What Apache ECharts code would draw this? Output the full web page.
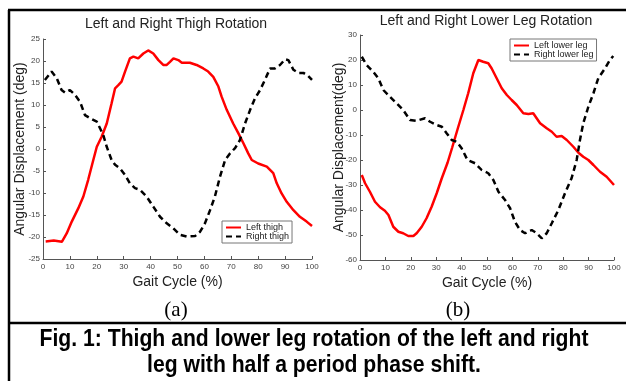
<!DOCTYPE html>
<html>
<head>
<meta charset="utf-8">
<script src="https://cdn.jsdelivr.net/npm/echarts@6/dist/echarts.min.js"></script>
<style>
  html, body { margin: 0; padding: 0; background: #fff; }
  #main { width: 626px; height: 381px; }
</style>
</head>
<body>
<div id="main"></div>
<script>
// values: [gait cycle %, angle deg]
var leftThigh = [[1,-21],[4,-20.8],[7,-21.1],[8.8,-19.2],[10.7,-16.5],[13.1,-13.5],[15,-10.8],[16.8,-7],[18.7,-2.5],[20,0.5],[21.8,2.8],[23.7,5.8],[25.5,10.4],[26.8,13.8],[28,14.5],[29.2,15.3],[30.5,17.6],[32.3,20.6],[33.6,21],[35.4,20.6],[37.3,21.7],[39.1,22.4],[41,21.7],[42.9,20.2],[44.7,19.1],[46,19.1],[47.2,19.8],[48.5,20.6],[50.3,20.2],[51.6,19.6],[54.6,19.6],[57.1,19.1],[59.6,18.3],[61.4,17.6],[63.3,16.4],[65.2,14.2],[66.4,11.9],[68.3,8.9],[70.7,5.8],[72.6,3.6],[74.5,1.3],[76.3,-1],[77.6,-2.5],[80,-3.3],[83.2,-4],[85.6,-5.5],[86.9,-7.8],[88.7,-10.1],[90.6,-12],[93.1,-13.9],[95.5,-15.4],[98,-16.5],[100,-17.5]];
var rightThigh = [[0.7,15.7],[3.2,17.6],[5.1,16.1],[6.9,13.4],[8.2,12.8],[10,13.4],[11.9,12.3],[13.8,10.7],[15.6,7.7],[17.5,7],[20,6.2],[21.2,4.7],[22.4,3.2],[23.7,0.5],[25.5,-2.5],[26.8,-3.6],[28.6,-4.4],[30.5,-5.9],[32.3,-7.8],[34.2,-8.9],[36.1,-9.3],[38.5,-10.8],[41,-13.1],[43.5,-15.4],[46,-16.9],[48.4,-18],[50.9,-19.5],[53.4,-19.9],[56.5,-19.8],[58.4,-18.8],[60.2,-16.9],[62.1,-13.9],[63.9,-10.8],[65.8,-6.3],[67.7,-2.5],[69.5,-1],[71.4,0.2],[73.2,2],[75.1,5.8],[77,8.9],[78.8,11.5],[80.7,13.4],[82.5,15.7],[84.4,18.3],[86.2,18.3],[88.1,19.1],[90,20.4],[91.2,20.2],[93.1,18],[94.9,17.3],[96.8,17.3],[98.6,16.6],[100,15.7]];
var leftLowerLeg = [[0.7,-26],[2,-29.3],[3.9,-32.7],[5.9,-36.7],[7.9,-38.9],[9.8,-40.3],[11.2,-42],[13.1,-46.7],[15.1,-48.7],[17,-49.3],[19,-50.4],[21,-50.4],[22.3,-49.3],[24.3,-46.7],[26.2,-43.3],[28.2,-38.7],[30.2,-33.3],[32.2,-27.3],[34.5,-21],[36.3,-15],[38.7,-6.7],[40.7,0],[42.6,6.7],[44.6,14.7],[46.6,20],[48.5,19.3],[50.5,18.7],[51.8,16.7],[53.8,12.7],[55.8,8.7],[57.8,6],[59.7,4],[61.7,2],[64.3,-1.3],[66.3,-1.6],[68.2,-1.3],[70.9,-5.3],[73.5,-7.3],[75.5,-8.7],[77.4,-10.7],[79.4,-10.4],[81.4,-12],[84,-14.7],[86,-17.1],[87.9,-18.7],[89.9,-20],[91.9,-22],[94.5,-24.7],[97.1,-26.7],[100,-30]];
var rightLowerLeg = [[0.7,21.3],[2.6,18],[5.2,15.3],[7.2,12.7],[9.2,8],[11.8,5.3],[14.4,2.7],[17,0],[19.7,-4],[22.3,-4.3],[25.6,-3.3],[27.6,-4.7],[30.2,-6],[32.2,-6.7],[34.1,-9.3],[36.1,-12],[38.1,-12.7],[40,-15.3],[42.3,-20],[45.3,-21.3],[47.9,-24],[50.5,-25.3],[52.5,-28],[54.5,-32.7],[57.1,-36],[59.1,-39.3],[61,-44.7],[63,-48],[65,-49.3],[67.6,-48],[69.6,-49.3],[71.5,-51.3],[73.5,-49.3],[75.5,-45.3],[78.1,-40],[80.7,-33.3],[83.3,-27.3],[85.3,-20],[86.6,-12],[87.9,-5.3],[89.9,1.3],[91.9,6.7],[93.8,12.7],[96.5,16.7],[98.4,20],[99.7,21.6]];

var seriesNames = ['Left thigh', 'Right thigh', 'Left lower leg', 'Right lower leg'];
var panelTitles = ['Left and Right Thigh Rotation', 'Left and Right Lower Leg Rotation'];
var yNames = ['Angular Displacement (deg)', 'Angular Displacement(deg)'];
var xName = 'Gait Cycle (%)';
var yRanges = [[-25, 25, 5], [-60, 30, 10]];
var captionLines = ['Fig. 1: Thigh and lower leg rotation of the left and right', 'leg with half a period phase shift.'];

var chart = echarts.init(document.getElementById('main'));

var axisCol = '#555';
var smallFont = 'Arial Narrow, Liberation Sans Narrow, Arial, Liberation Sans';
function xAx(i) {
  return {
    type: 'value', gridIndex: i, min: 0, max: 100, interval: 10,
    name: xName, nameLocation: 'middle', nameGap: 16, nameMoveOverlap: false,
    nameTextStyle: { fontSize: 14, color: '#222', fontFamily: 'Arial, Liberation Sans' },
    axisLine: { onZero: false, lineStyle: { color: axisCol, width: 1 } },
    axisTick: { inside: true, length: 3, lineStyle: { color: axisCol } },
    axisLabel: { fontSize: 8, color: '#444', margin: 4, fontFamily: smallFont },
    splitLine: { show: false }
  };
}
function yAx(i, gap) {
  return {
    type: 'value', gridIndex: i, min: yRanges[i][0], max: yRanges[i][1], interval: yRanges[i][2],
    name: yNames[i], nameLocation: 'middle', nameGap: gap, nameRotate: 90, nameMoveOverlap: false,
    nameTextStyle: { fontSize: 14, color: '#222', fontFamily: 'Arial, Liberation Sans' },
    axisLine: { show: true, onZero: false, lineStyle: { color: axisCol, width: 1 } },
    axisTick: { show: true, inside: true, length: 3, lineStyle: { color: axisCol } },
    axisLabel: { fontSize: 8, color: '#444', margin: 3, fontFamily: smallFont },
    splitLine: { show: false }
  };
}
function lineSeries(name, data, i, dashed) {
  var col = dashed ? '#000' : '#f00';
  return {
    name: name, type: 'line', xAxisIndex: i, yAxisIndex: i, data: data,
    showSymbol: false, symbol: 'none', smooth: false, silent: true,
    itemStyle: { color: col },
    lineStyle: dashed ? { color: col, width: 2.5, type: [6, 4] } : { color: col, width: 2.5 }
  };
}
function legendBox(names, pos) {
  return Object.assign({
    orient: 'vertical', data: names, itemWidth: 15, itemHeight: 8, itemGap: 0,
    padding: [2, 3], borderColor: '#777', borderWidth: 1, backgroundColor: '#fff',
    itemStyle: { opacity: 0 },
    textStyle: { fontSize: 9, color: '#222', fontFamily: smallFont }
  }, pos);
}
function txt(x, y, s, font, col, sx) {
  return { type: 'text', x: x, y: y, scaleX: sx || 1, style: { text: s, font: font, fill: col || '#222', align: 'center', verticalAlign: 'middle', textAlign: 'center', textVerticalAlign: 'middle' } };
}
function rule(x1, y1, x2, y2) {
  return { type: 'line', shape: { x1: x1, y1: y1, x2: x2, y2: y2 }, style: { stroke: '#000', lineWidth: 2.5 } };
}

chart.setOption({
  animation: false,
  backgroundColor: '#fff',
  grid: [
    { left: 43, top: 39, width: 269, height: 220 },
    { left: 360, top: 35, width: 254, height: 225 }
  ],
  xAxis: [xAx(0), xAx(1)],
  yAxis: [yAx(0, 16), yAx(1, 14)],
  legend: [
    legendBox(seriesNames.slice(0, 2), { left: 222, top: 221 }),
    legendBox(seriesNames.slice(2, 4), { left: 510, top: 39 })
  ],
  series: [
    lineSeries(seriesNames[0], leftThigh, 0, false),
    lineSeries(seriesNames[1], rightThigh, 0, true),
    lineSeries(seriesNames[2], leftLowerLeg, 1, false),
    lineSeries(seriesNames[3], rightLowerLeg, 1, true)
  ],
  graphic: [
    rule(8, 10, 626, 10),
    rule(9, 10, 9, 381),
    rule(8, 323, 626, 323),
    txt(176, 24, panelTitles[0], '14px Arial, Liberation Sans'),
    txt(486, 21, panelTitles[1], '14px Arial, Liberation Sans'),
    txt(176, 310, '(a)', '21px Times New Roman, Liberation Serif', '#000'),
    txt(458, 310, '(b)', '21px Times New Roman, Liberation Serif', '#000'),
    txt(314, 340, captionLines[0], 'bold 23px Arial Narrow, Liberation Sans Narrow, Arial, Liberation Sans', '#000', 0.92),
    txt(314, 366, captionLines[1], 'bold 23px Arial Narrow, Liberation Sans Narrow, Arial, Liberation Sans', '#000', 0.92)
  ]
});
</script>
</body>
</html>
